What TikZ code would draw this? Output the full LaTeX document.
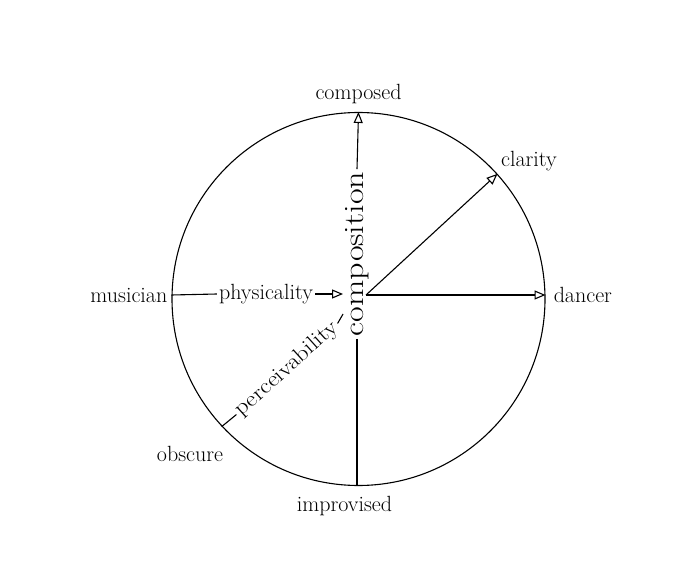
\documentclass[tikz,border=0pt]{standalone}
\usepackage{tikz}
\usetikzlibrary{arrows.meta,positioning}

\begin{document}
\begin{tikzpicture}[
 x=1pt,y=-1pt,
 lbl/.style={font=\fontsize{22}{24}\selectfont,inner sep=2pt},
 axis/.style={line width=1.1pt},
 arr/.style={axis,-{Triangle[open,length=11pt,width=9pt]}}]
\useasboundingbox (0,0) rectangle (685,569);
% the wheel
\node[circle,draw,line width=1.1pt,minimum size=373pt,inner sep=0pt] (wheel) at (358.5,299) {};
\coordinate (o) at (366,295);
% axis names
\node[lbl,rotate=90,xscale=1.22] (composition) at (357,254) {\fontsize{28}{30}\selectfont composition};
\node[lbl] (physicality) at (266,294) {physicality};
\node[lbl,rotate=42,xscale=1.12] (perceivability) at (287,369) {perceivability};
% pole names
\node[lbl,above=6pt of wheel.north] (composed) {composed};
\node[lbl,below=8pt of wheel.south,xshift=-14pt] (improvised) {improvised};
\node[lbl,left=2pt of wheel.west |- o] (musician) {musician};
\node[lbl,right=6pt of wheel.east |- o] (dancer) {dancer};
\node[lbl] (clarity) at (529,161) {clarity};
\node[lbl] (obscure) at (190,454) {obscure};
% axes
\draw[arr] (composition.east)--(wheel.north);
\draw[axis] (composition.west)--(wheel.south -| composition.west);
\draw[axis] (wheel.west |- o)--(physicality.west);
\draw[arr] (physicality.east)--(composition.north |- physicality.east);
\draw[arr] (o)--(wheel.east |- o);
\draw[arr] (o)--(wheel.42);
\draw[axis] (wheel.223)--(perceivability.west);
\draw[axis] (perceivability.east)--(composition.north |- 0,314);
\end{tikzpicture}
\end{document}
